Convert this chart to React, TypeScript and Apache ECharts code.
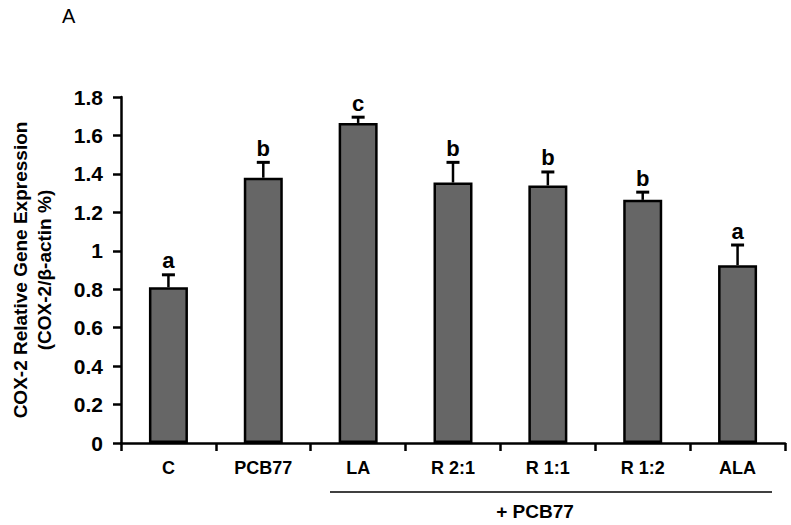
import React, { useEffect, useRef } from "react";
import * as echarts from "echarts";

const categories = ["C", "PCB77", "LA", "R 2:1", "R 1:1", "R 1:2", "ALA"];
const means = [0.81, 1.38, 1.665, 1.355, 1.34, 1.265, 0.925];
const errors = [0.065, 0.08, 0.03, 0.105, 0.07, 0.04, 0.105];
const letters = ["a", "b", "c", "b", "b", "b", "a"];
const yTicks = { min: 0, max: 1.8, interval: 0.2 };

export default function App() {
  const ref = useRef<HTMLDivElement>(null);
  useEffect(() => {
    if (!ref.current) return;
    const chart = echarts.init(ref.current, null, { renderer: "svg" });
    const font = "Arial, 'Liberation Sans', sans-serif";
    chart.setOption({
      animation: false,
      backgroundColor: "#ffffff",
      grid: { left: 121, right: 6, top: 97, bottom: 82, containLabel: false },
      xAxis: {
        type: "category",
        data: categories,
        axisLine: { lineStyle: { color: "#000", width: 2.5 } },
        axisTick: { show: true, length: 8, lineStyle: { color: "#000", width: 2.5 } },
        axisLabel: { color: "#000", fontFamily: font, fontWeight: "bold", fontSize: 18, margin: 16 },
      },
      yAxis: {
        type: "value",
        min: yTicks.min,
        max: yTicks.max,
        interval: yTicks.interval,
        name: "COX-2 Relative Gene Expression\n(COX-2/β-actin %)",
        nameLocation: "middle",
        nameRotate: 90,
        nameGap: 65,
        nameTextStyle: { color: "#000", fontFamily: font, fontWeight: "bold", fontSize: 19, lineHeight: 24 },
        axisLine: { show: true, lineStyle: { color: "#000", width: 2.5 } },
        axisTick: { show: true, length: 8, lineStyle: { color: "#000", width: 2.5 } },
        axisLabel: { color: "#000", fontFamily: font, fontWeight: "bold", fontSize: 21, margin: 18 },
        splitLine: { show: false },
      },
      series: [
        {
          type: "bar",
          data: means,
          barWidth: 39,
          itemStyle: { color: "#666666", borderColor: "#000", borderWidth: 2.5 },
          z: 2,
        },
        {
          type: "custom",
          data: means.map((m, i) => [i, m, m + errors[i], letters[i]]),
          z: 3,
          renderItem: (params: any, api: any) => {
            const x = api.value(0);
            const base = api.coord([x, api.value(1)]);
            const top = api.coord([x, api.value(2)]);
            const cap = 6.5;
            return {
              type: "group",
              children: [
                {
                  type: "line",
                  shape: { x1: base[0], y1: base[1], x2: top[0], y2: top[1] },
                  style: { stroke: "#000", lineWidth: 2.5 },
                },
                {
                  type: "line",
                  shape: { x1: top[0] - cap, y1: top[1], x2: top[0] + cap, y2: top[1] },
                  style: { stroke: "#000", lineWidth: 3 },
                },
                {
                  type: "text",
                  x: top[0],
                  y: top[1] - 3,
                  style: {
                    text: String(api.value(3)),
                    fill: "#000",
                    font: `bold 22px ${font}`,
                    textAlign: "center",
                    textVerticalAlign: "bottom",
                  },
                },
              ],
            };
          },
        },
      ],
      graphic: [
        {
          type: "text",
          left: 62,
          top: 6,
          style: { text: "A", fill: "#000", font: `20px ${font}` },
        },
        {
          type: "line",
          shape: { x1: 330, y1: 492, x2: 772, y2: 492 },
          style: { stroke: "#000", lineWidth: 1.5 },
        },
        {
          type: "text",
          x: 535,
          y: 511,
          style: {
            text: "+ PCB77",
            fill: "#000",
            font: `bold 19px ${font}`,
            textAlign: "center",
            textVerticalAlign: "middle",
          },
        },
      ],
    });
    return () => chart.dispose();
  }, []);
  return <div ref={ref} style={{ width: 791, height: 525, position: "absolute", left: 0, top: 0 }} />;
}
